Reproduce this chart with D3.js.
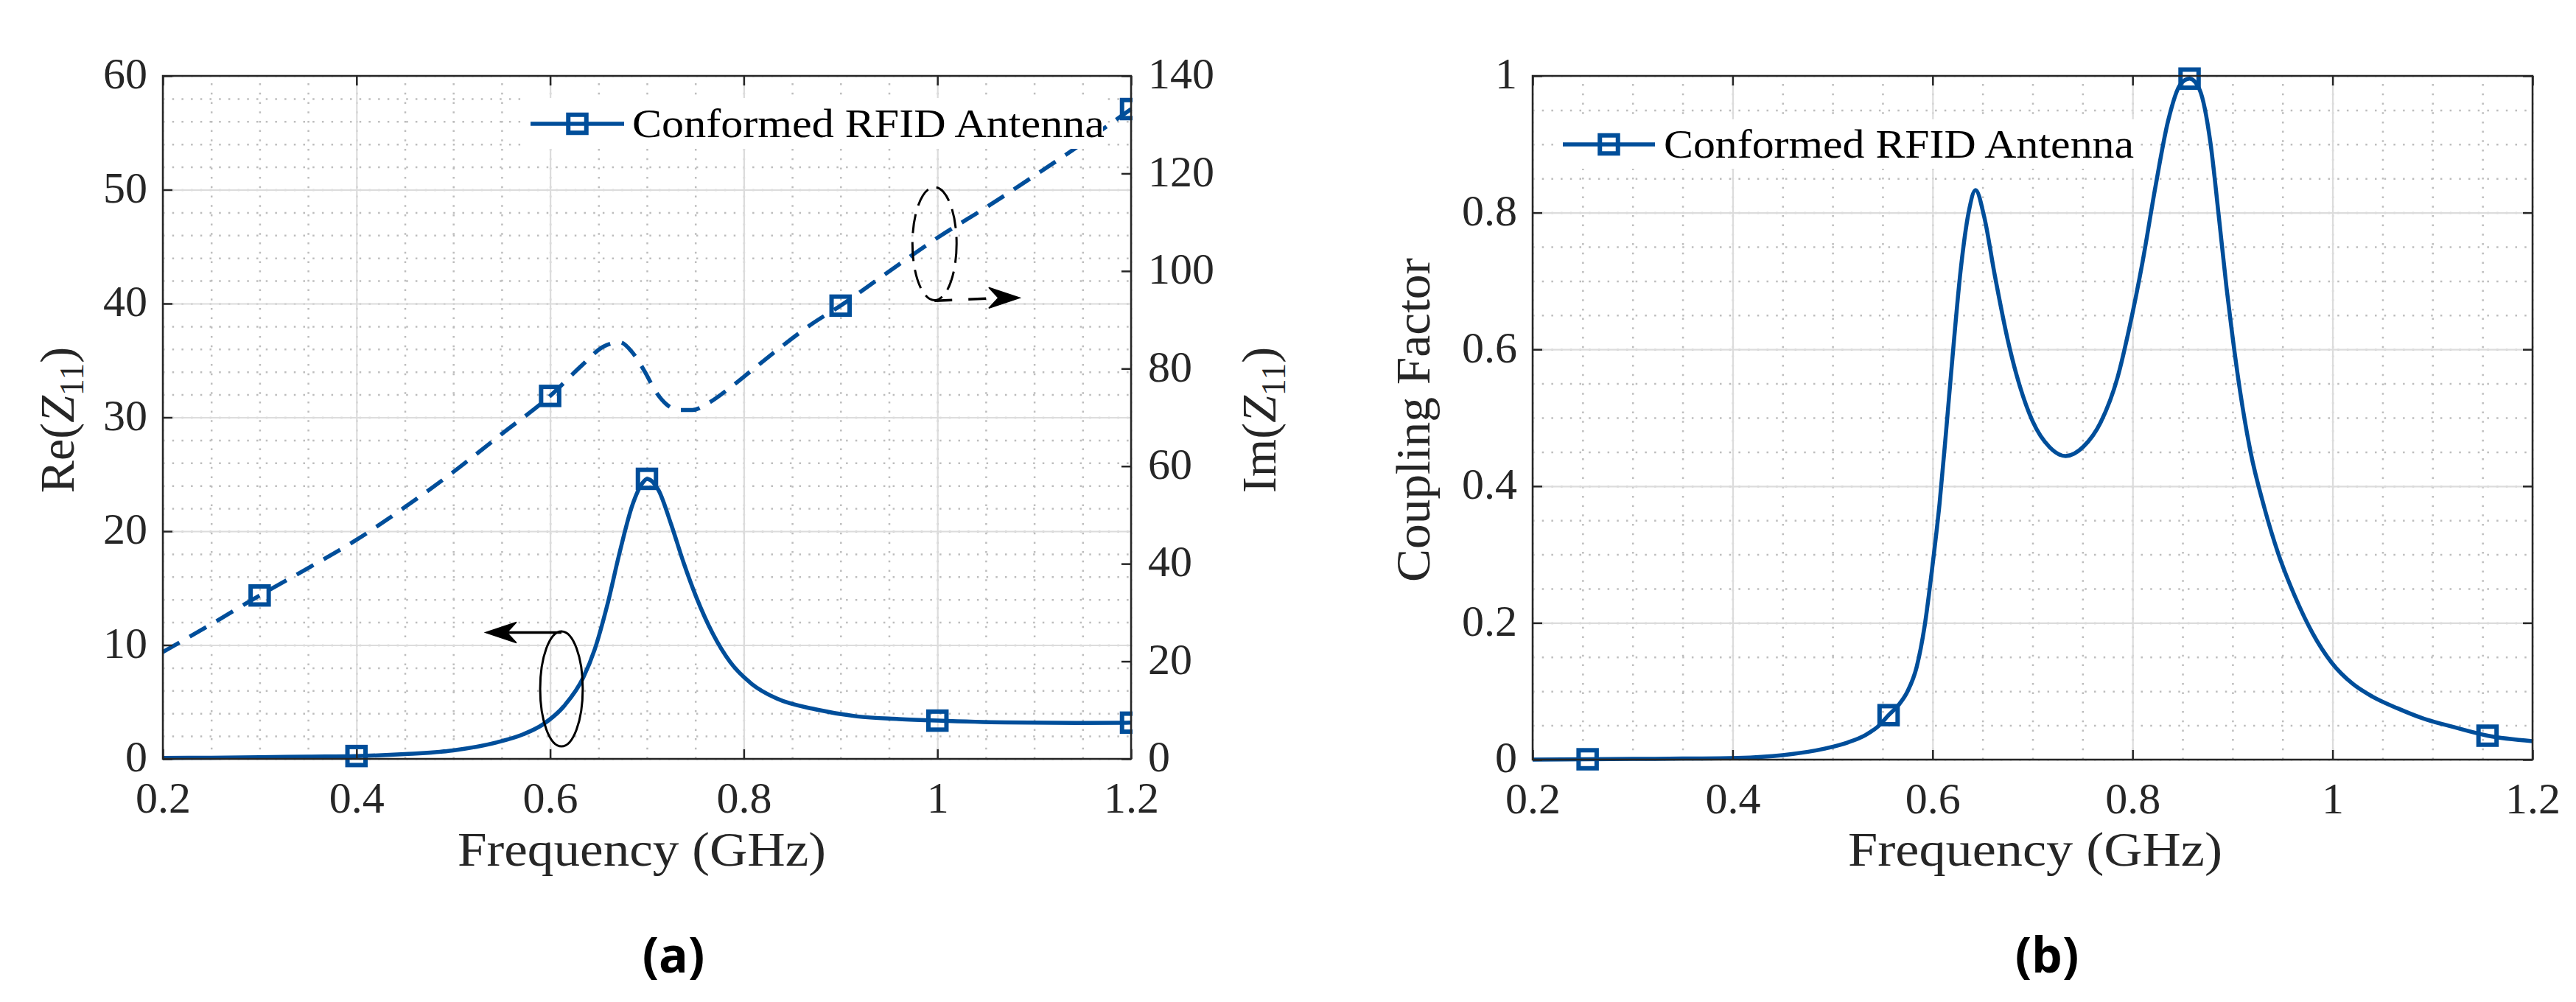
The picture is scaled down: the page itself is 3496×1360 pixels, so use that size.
<!DOCTYPE html>
<html><head><meta charset="utf-8">
<script src="https://cdn.jsdelivr.net/npm/d3@7"></script>
<style>body{margin:0;background:#fff}</style></head>
<body>
<svg id="chart" width="3496" height="1360"></svg>
<script>
// ---------------- data ----------------
const xTicks = [0.2, 0.4, 0.6, 0.8, 1.0, 1.2];
const xTickLabels = ["0.2", "0.4", "0.6", "0.8", "1", "1.2"];
const reTicks = [0, 10, 20, 30, 40, 50, 60];
const reTickLabels = ["0", "10", "20", "30", "40", "50", "60"];
const imTicks = [0, 20, 40, 60, 80, 100, 120, 140];
const imTickLabels = ["0", "20", "40", "60", "80", "100", "120", "140"];
const kTicks = [0, 0.2, 0.4, 0.6, 0.8, 1.0];
const kTickLabels = ["0", "0.2", "0.4", "0.6", "0.8", "1"];

// Panel (a): Re(Z11) (left axis)
const reFreq = [0.2, 0.25, 0.3, 0.35, 0.4, 0.45, 0.5, 0.545, 0.572, 0.593, 0.615, 0.634, 0.646, 0.659, 0.672, 0.685, 0.696, 0.7, 0.712, 0.725, 0.738, 0.751, 0.768, 0.786, 0.808, 0.834, 0.874, 0.917, 0.96, 1.0, 1.07, 1.144, 1.2];
const reVals = [0.08, 0.1, 0.14, 0.2, 0.25, 0.42, 0.75, 1.45, 2.15, 3.05, 4.7, 7.1, 9.6, 13.5, 18.2, 22.3, 24.3, 24.6, 23.6, 20.6, 17.2, 14.2, 11.0, 8.5, 6.6, 5.3, 4.35, 3.73, 3.5, 3.36, 3.2, 3.16, 3.18];
const reMarkFreq = [0.4, 0.7, 1.0, 1.2];
const reMarkVals = [0.25, 24.6, 3.36, 3.18];

// Panel (a): Im(Z11) (right axis)
const imFreq = [0.2, 0.25, 0.3, 0.35, 0.4, 0.45, 0.5, 0.55, 0.6, 0.633, 0.655, 0.672, 0.685, 0.698, 0.709, 0.72, 0.733, 0.747, 0.764, 0.786, 0.808, 0.839, 0.87, 0.9, 0.95, 1.0, 1.05, 1.1, 1.15, 1.2];
const imVals = [21.9, 27.6, 33.5, 39.1, 44.9, 51.6, 58.8, 66.6, 74.4, 80.7, 84.5, 85.4, 83.3, 79.3, 75.3, 72.7, 71.5, 71.5, 73.0, 76.1, 79.6, 84.5, 89.1, 92.9, 99.9, 106.8, 113.0, 119.5, 126.2, 133.2];
const imMarkFreq = [0.3, 0.6, 0.9, 1.2];
const imMarkVals = [33.5, 74.4, 92.9, 133.2];

// Panel (b): coupling factor
const kFreq = [0.2, 0.255, 0.3, 0.35, 0.405, 0.45, 0.492, 0.515, 0.533, 0.545, 0.556, 0.566, 0.575, 0.584, 0.592, 0.6, 0.607, 0.6135, 0.62, 0.628, 0.636, 0.643, 0.6516, 0.662, 0.675, 0.6875, 0.7, 0.717, 0.733, 0.751, 0.768, 0.785, 0.797, 0.81, 0.823, 0.8355, 0.848, 0.857, 0.867, 0.878, 0.886, 0.894, 0.899, 0.9074, 0.918, 0.9315, 0.946, 0.962, 0.98, 0.999, 1.02, 1.04, 1.065, 1.089, 1.12, 1.155, 1.2];
const kVals = [0, 0.0005, 0.001, 0.0015, 0.0025, 0.0065, 0.016, 0.025, 0.036, 0.048, 0.065, 0.08, 0.1, 0.135, 0.195, 0.285, 0.375, 0.48, 0.59, 0.715, 0.8, 0.833, 0.794, 0.71, 0.615, 0.545, 0.495, 0.457, 0.444, 0.458, 0.493, 0.559, 0.633, 0.728, 0.839, 0.934, 0.988, 0.996, 0.98, 0.901, 0.798, 0.69, 0.63, 0.54, 0.45, 0.37, 0.3, 0.24, 0.185, 0.142, 0.111, 0.092, 0.075, 0.061, 0.048, 0.035, 0.027];
const kMarkFreq = [0.255, 0.556, 0.857, 1.155];
const kMarkVals = [0.0005, 0.065, 0.996, 0.035];

const seriesName = "Conformed RFID Antenna";

// annotation geometry in data units (ellipse + arrow pointing to the axis)
const annoReEllipse = {cx: 0.6117, cy: 6.15, rx: 0.022, ry: 5.05};
const annoReArrow = {x1: 0.6117, y1: 11.1, x2: 0.5333, y2: 11.1};
const annoImEllipse = {cx: 0.997, cy: 105.6, rx: 0.0228, ry: 11.6};
const annoImArrow = {x1: 0.997, y1: 93.9, x2: 1.085, y2: 94.5};

// ---------------- style ----------------
const BLUE = "#004e9a";
const AX = "#262626";
const SERIF = "'Liberation Serif', 'Times New Roman', serif";
const TICKFS = 60, LABFS = 66;

const svg = d3.select("#chart");
svg.append("rect").attr("width", 3496).attr("height", 1360).attr("fill", "#fff");

// ---------------- scales ----------------
const xA = d3.scaleLinear([0.2, 1.2], [221, 1535]);
const yRe = d3.scaleLinear([0, 60], [1030, 103]);
const yIm = d3.scaleLinear([0, 140], [1030, 103]);
const xB = d3.scaleLinear([0.2, 1.2], [2080, 3437]);
const yK = d3.scaleLinear([0, 1], [1031, 103]);

function range(a, b, s) { const r = []; for (let v = a; v <= b + 1e-9; v += s) r.push(+v.toFixed(6)); return r; }

function grid(g, x, y, xMinor, yMinor, xMajor, yMajor) {
  const [x0, x1] = x.range(), [y1, y0] = y.range();
  const H = y1 - y0, W = x1 - x0;
  g.append("g").attr("transform", `translate(0,${y1})`)
    .call(d3.axisBottom(x).tickValues(xMinor).tickSize(-H).tickFormat(""))
    .call(s => s.select(".domain").remove())
    .selectAll("line").attr("stroke", "#bdbdbd").attr("stroke-width", 2.5).attr("stroke-dasharray", "2.5,10.2");
  g.append("g").attr("transform", `translate(${x0},0)`)
    .call(d3.axisLeft(y).tickValues(yMinor).tickSize(-W).tickFormat(""))
    .call(s => s.select(".domain").remove())
    .selectAll("line").attr("stroke", "#bdbdbd").attr("stroke-width", 2.5).attr("stroke-dasharray", "2.5,10.2");
  g.append("g").attr("transform", `translate(0,${y1})`)
    .call(d3.axisBottom(x).tickValues(xMajor).tickSize(-H).tickFormat(""))
    .call(s => s.select(".domain").remove())
    .selectAll("line").attr("stroke", "#dcdcdc").attr("stroke-width", 2.2);
  g.append("g").attr("transform", `translate(${x0},0)`)
    .call(d3.axisLeft(y).tickValues(yMajor).tickSize(-W).tickFormat(""))
    .call(s => s.select(".domain").remove())
    .selectAll("line").attr("stroke", "#dcdcdc").attr("stroke-width", 2.2);
}

function styleAxis(sel) {
  sel.select(".domain").remove();
  sel.selectAll("line").attr("stroke", AX).attr("stroke-width", 2.5);
  sel.selectAll("text").attr("font-family", SERIF).attr("font-size", TICKFS).attr("fill", AX);
}

function axes(g, x, y, xT, xL, yT, yL, yRightScale, yRT, yRL) {
  const [x0, x1] = x.range(), [y1, y0] = y.range();
  const TL = 13;
  g.append("g").attr("transform", `translate(0,${y1})`)
    .call(d3.axisBottom(x).tickValues(xT).tickFormat((d, i) => xL[i]).tickSizeInner(-TL).tickSizeOuter(0).tickPadding(30))
    .call(styleAxis);
  g.append("g").attr("transform", `translate(0,${y0})`)
    .call(d3.axisTop(x).tickValues(xT).tickFormat("").tickSizeInner(-TL).tickSizeOuter(0))
    .call(styleAxis);
  g.append("g").attr("transform", `translate(${x0},0)`)
    .call(d3.axisLeft(y).tickValues(yT).tickFormat((d, i) => yL[i]).tickSizeInner(-TL).tickSizeOuter(0).tickPadding(21))
    .call(styleAxis)
    .call(s => s.selectAll("text").attr("dy", "0.28em"));
  if (yRightScale) {
    g.append("g").attr("transform", `translate(${x1},0)`)
      .call(d3.axisRight(yRightScale).tickValues(yRT).tickFormat((d, i) => yRL[i]).tickSizeInner(-TL).tickSizeOuter(0).tickPadding(23))
      .call(styleAxis)
      .call(s => s.selectAll("text").attr("dy", "0.28em"));
  } else {
    g.append("g").attr("transform", `translate(${x1},0)`)
      .call(d3.axisRight(y).tickValues(yT).tickFormat("").tickSizeInner(-TL).tickSizeOuter(0))
      .call(styleAxis);
  }
  g.append("rect").attr("x", x0).attr("y", y0).attr("width", x1 - x0).attr("height", y1 - y0)
    .attr("fill", "none").attr("stroke", AX).attr("stroke-width", 2.5);
}

function markers(g, x, y, fx, fy) {
  g.selectAll(null).data(fx.map((f, i) => [f, fy[i]])).join("rect")
    .attr("x", d => x(d[0]) - 12.25).attr("y", d => y(d[1]) - 12.25)
    .attr("width", 24.5).attr("height", 24.5)
    .attr("fill", "none").attr("stroke", BLUE).attr("stroke-width", 6);
}

function legend(g, bx0, by0, bx1, by1, lx0, lx1, ly, tx, tw) {
  g.append("rect").attr("x", bx0).attr("y", by0).attr("width", bx1 - bx0).attr("height", by1 - by0).attr("fill", "#fff");
  g.append("line").attr("x1", lx0).attr("x2", lx1).attr("y1", ly).attr("y2", ly).attr("stroke", BLUE).attr("stroke-width", 5.5);
  g.append("rect").attr("x", (lx0 + lx1) / 2 - 12.25).attr("y", ly - 12.25).attr("width", 24.5).attr("height", 24.5)
    .attr("fill", "none").attr("stroke", BLUE).attr("stroke-width", 6);
  g.append("text").attr("x", tx).attr("y", ly + 18).attr("font-family", SERIF).attr("font-size", 55)
    .attr("fill", "#000").attr("textLength", tw).attr("lengthAdjust", "spacingAndGlyphs").text(seriesName);
}

function arrowHead(g, xt, yt, dir) {
  const L = 42, W = 14, N = 29;
  const p = d3.path();
  p.moveTo(xt, yt);
  p.lineTo(xt - dir * L, yt - W);
  p.lineTo(xt - dir * N, yt);
  p.lineTo(xt - dir * L, yt + W);
  p.closePath();
  g.append("path").attr("d", p.toString()).attr("fill", "#000").attr("stroke", "#000").attr("stroke-width", 1.5);
}

// ================= Panel (a) =================
const gA = svg.append("g");
grid(gA, xA, yRe, range(0.2, 1.2, 0.05), range(0, 60, 2), xTicks, reTicks);

svg.append("clipPath").attr("id", "clipA").append("rect").attr("x", 150).attr("y", 60).attr("width", 1535 + 2 - 150).attr("height", 1020);
const dA = gA.append("g").attr("clip-path", "url(#clipA)");

const lineRe = d3.line().x(d => xA(d[0])).y(d => yRe(d[1])).curve(d3.curveMonotoneX);
const lineIm = d3.line().x(d => xA(d[0])).y(d => yIm(d[1])).curve(d3.curveMonotoneX);

dA.append("path").attr("d", lineIm(imFreq.map((f, i) => [f, imVals[i]])))
  .attr("fill", "none").attr("stroke", BLUE).attr("stroke-width", 5.5).attr("stroke-dasharray", "26,16");
markers(dA, xA, yIm, imMarkFreq, imMarkVals);
dA.append("path").attr("d", lineRe(reFreq.map((f, i) => [f, reVals[i]])))
  .attr("fill", "none").attr("stroke", BLUE).attr("stroke-width", 5.5);
markers(dA, xA, yRe, reMarkFreq, reMarkVals);

{
  const e = annoReEllipse, a = annoReArrow;
  gA.append("ellipse").attr("cx", xA(e.cx)).attr("cy", yRe(e.cy))
    .attr("rx", xA(e.cx + e.rx) - xA(e.cx)).attr("ry", yRe(e.cy) - yRe(e.cy + e.ry))
    .attr("fill", "none").attr("stroke", "#000").attr("stroke-width", 3);
  gA.append("line").attr("x1", xA(a.x1)).attr("y1", yRe(a.y1)).attr("x2", xA(a.x2) + 30).attr("y2", yRe(a.y2))
    .attr("stroke", "#000").attr("stroke-width", 3.5);
  arrowHead(gA, xA(a.x2), yRe(a.y2), -1);

  const e2 = annoImEllipse, a2 = annoImArrow;
  gA.append("ellipse").attr("cx", xA(e2.cx)).attr("cy", yIm(e2.cy))
    .attr("rx", xA(e2.cx + e2.rx) - xA(e2.cx)).attr("ry", yIm(e2.cy) - yIm(e2.cy + e2.ry))
    .attr("fill", "none").attr("stroke", "#000").attr("stroke-width", 3).attr("stroke-dasharray", "26,12");
  gA.append("line").attr("x1", xA(a2.x1)).attr("y1", yIm(a2.y1)).attr("x2", xA(a2.x2) - 30).attr("y2", yIm(a2.y2) + 0.3)
    .attr("stroke", "#000").attr("stroke-width", 3.5).attr("stroke-dasharray", "24,22");
  arrowHead(gA, xA(a2.x2), yIm(a2.y2), 1);
}

legend(gA, 707, 133, 1497, 202, 720, 847, 168, 858, 641);
axes(gA, xA, yRe, xTicks, xTickLabels, reTicks, reTickLabels, yIm, imTicks, imTickLabels);

gA.append("text").attr("x", 871).attr("y", 1175).attr("text-anchor", "middle")
  .attr("font-family", SERIF).attr("font-size", LABFS).attr("fill", AX)
  .attr("textLength", 500).attr("lengthAdjust", "spacingAndGlyphs").text("Frequency (GHz)");

function zLabel(g, x, y, prefix) {
  const t = g.append("text").attr("transform", `translate(${x},${y}) rotate(-90)`).attr("text-anchor", "middle")
    .attr("font-family", SERIF).attr("font-size", LABFS).attr("fill", AX);
  t.append("tspan").text(prefix + "(");
  t.append("tspan").attr("font-style", "italic").text("Z");
  t.append("tspan").attr("font-size", 46).attr("dy", 13).text("11");
  t.append("tspan").attr("dy", -13).text(")");
}
zLabel(gA, 100, 570, "Re");
zLabel(gA, 1731, 570, "Im");

gA.append("text").attr("x", 914).attr("y", 1320).attr("text-anchor", "middle")
  .attr("font-family", "'Open Sans', 'Noto Sans', sans-serif").attr("font-weight", "bold").attr("font-size", 66)
  .attr("fill", "#000").text("(a)");

// ================= Panel (b) =================
const gB = svg.append("g");
grid(gB, xB, yK, range(0.2, 1.2, 0.05), range(0, 1, 0.05), xTicks, kTicks);

svg.append("clipPath").attr("id", "clipB").append("rect").attr("x", 2000).attr("y", 60).attr("width", 3437 + 2 - 2000).attr("height", 1020);
const dB = gB.append("g").attr("clip-path", "url(#clipB)");
const lineK = d3.line().x(d => xB(d[0])).y(d => yK(d[1])).curve(d3.curveMonotoneX);
dB.append("path").attr("d", lineK(kFreq.map((f, i) => [f, kVals[i]])))
  .attr("fill", "none").attr("stroke", BLUE).attr("stroke-width", 5.5);
markers(dB, xB, yK, kMarkFreq, kMarkVals);

legend(gB, 2110, 162, 2905, 229, 2121, 2246, 196, 2258, 638);
axes(gB, xB, yK, xTicks, xTickLabels, kTicks, kTickLabels, null);

gB.append("text").attr("x", 2762).attr("y", 1175).attr("text-anchor", "middle")
  .attr("font-family", SERIF).attr("font-size", LABFS).attr("fill", AX)
  .attr("textLength", 508).attr("lengthAdjust", "spacingAndGlyphs").text("Frequency (GHz)");
gB.append("text").attr("transform", "translate(1940,570) rotate(-90)").attr("text-anchor", "middle")
  .attr("font-family", SERIF).attr("font-size", LABFS).attr("fill", AX)
  .attr("textLength", 440).attr("lengthAdjust", "spacingAndGlyphs").text("Coupling Factor");

gB.append("text").attr("x", 2778).attr("y", 1320).attr("text-anchor", "middle")
  .attr("font-family", "'Open Sans', 'Noto Sans', sans-serif").attr("font-weight", "bold").attr("font-size", 66)
  .attr("fill", "#000").text("(b)");
</script>
</body></html>
